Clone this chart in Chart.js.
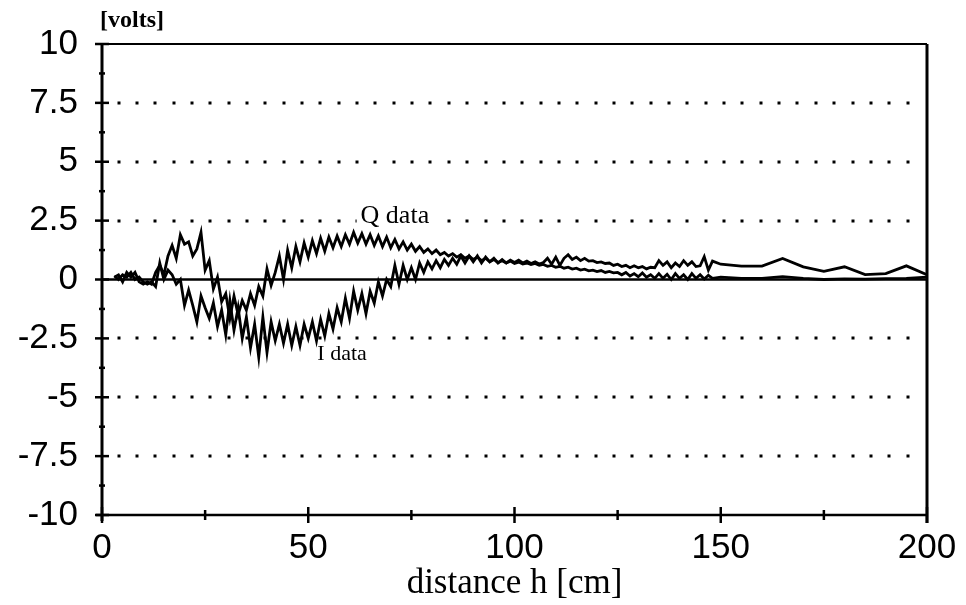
<!DOCTYPE html>
<html>
<head>
<meta charset="utf-8">
<script src="https://cdn.jsdelivr.net/npm/chart.js@4.4.0/dist/chart.umd.min.js"></script>
<style>
html, body { margin: 0; padding: 0; background: #fff; }
</style>
</head>
<body>
<canvas id="myChart" width="966" height="605"></canvas>
<script>
// distance h [cm] where both channels were sampled
var distance = [
    3, 4, 5, 6, 7, 8, 9, 10, 11, 12,
    13, 14, 15, 16, 17, 18, 19, 20, 21, 22,
    23, 24, 25, 26, 27, 28, 29, 30, 31, 32,
    33, 34, 35, 36, 37, 38, 39, 40, 41, 42,
    43, 44, 45, 46, 47, 48, 49, 50, 51, 52,
    53, 54, 55, 56, 57, 58, 59, 60, 61, 62,
    63, 64, 65, 66, 67, 68, 69, 70, 71, 72,
    73, 74, 75, 76, 77, 78, 79, 80, 81, 82,
    83, 84, 85, 86, 87, 88, 89, 90, 91, 92,
    93, 94, 95, 96, 97, 98, 99, 100, 101, 102,
    103, 104, 105, 106, 107, 108, 109, 110, 111, 112,
    113, 114, 115, 116, 117, 118, 119, 120, 121, 122,
    123, 124, 125, 126, 127, 128, 129, 130, 131, 132,
    133, 134, 135, 136, 137, 138, 139, 140, 141, 142,
    143, 144, 145, 146, 147, 148,
    150, 155, 160, 165, 170, 175, 180, 185, 190, 195, 200
];

// Q channel [volts]
var qVolts = [
    0.1, 0.2, -0.1, 0.3, 0.1, 0.3, -0.1, -0.2, -0.1, -0.2,
    0.3, 0.6, 0.2, 1.0, 1.45, 0.9, 1.9, 1.5, 1.6, 1.0,
    1.3, 2.0, 0.4, 0.8, -0.4, 0.1, -0.95, -0.6, -1.65, -0.7,
    -1.5, -0.9, -1.3, -0.6, -1.1, -0.3, -0.7, 0.45, -0.25, 0.3,
    1.0, 0.0, 1.25, 0.5, 1.4, 0.75, 1.55, 0.95, 1.65, 1.1,
    1.75, 1.2, 1.8, 1.35, 1.85, 1.4, 1.9, 1.5, 2.0, 1.55,
    1.95, 1.5, 1.9, 1.45, 1.85, 1.4, 1.8, 1.35, 1.7, 1.3,
    1.6, 1.25, 1.5, 1.2, 1.4, 1.15, 1.3, 1.1, 1.25, 1.05,
    1.15, 1.0, 1.1, 0.95, 1.05, 0.9, 1.0, 0.85, 0.95, 0.8,
    0.9, 0.75, 0.85, 0.72, 0.8, 0.7, 0.78, 0.68, 0.74, 0.66,
    0.7, 0.64, 0.68, 0.6, 0.64, 0.56, 0.6, 0.52, 0.56, 0.48,
    0.52, 0.44, 0.48, 0.4, 0.44, 0.37, 0.4, 0.34, 0.38, 0.3,
    0.34, 0.28, 0.3, 0.2, 0.3, 0.15, 0.25, 0.12, 0.28, 0.1,
    0.2, 0.05, 0.25, 0.05, 0.22, 0.0, 0.25, 0.05, 0.2, 0.0,
    0.25, 0.05, 0.2, 0.02, 0.18, 0.05,
    0.1, 0.05, 0.05, 0.12, 0.05, 0.0, 0.03, 0.02, 0.04, 0.05, 0.1
];

// I channel [volts]
var iVolts = [
    0.15, 0.0, 0.2, 0.1, 0.3, 0.0, 0.1, -0.1, -0.2, -0.1,
    -0.3, 0.7, 0.0, 0.4, 0.2, -0.2, 0.0, -1.1, -0.45, -1.1,
    -1.8, -0.7, -1.2, -1.65, -1.0, -2.0, -1.3, -2.35, -0.9, -2.15,
    -1.2, -2.5, -1.6, -2.9, -1.9, -3.3, -1.6, -3.1, -1.8, -2.6,
    -1.9, -2.7, -1.9, -2.8, -2.0, -2.8, -1.9, -2.5, -1.8, -2.6,
    -1.7, -2.4, -1.45, -2.1, -1.2, -1.8, -0.8, -1.65, -0.5, -1.3,
    -0.6, -1.45, -0.5, -1.0, -0.1, -0.7, 0.0, -0.3, 0.6, -0.2,
    0.6, 0.0, 0.5, 0.0, 0.7, 0.3, 0.75, 0.45, 0.8, 0.5,
    0.85, 0.6, 0.9, 0.65, 1.0, 0.7, 1.0, 0.75, 1.0, 0.7,
    0.95, 0.75, 0.9, 0.7, 0.85, 0.7, 0.82, 0.72, 0.82, 0.7,
    0.78, 0.68, 0.75, 0.66, 0.72, 0.9, 0.65, 0.95, 0.6, 0.9,
    1.05, 0.85, 0.95, 0.8, 0.9, 0.78, 0.8, 0.72, 0.75, 0.68,
    0.7, 0.6, 0.65, 0.55, 0.6, 0.5, 0.58, 0.5, 0.55, 0.45,
    0.52, 0.5, 0.8, 0.6, 0.75, 0.5, 0.7, 0.55, 0.8, 0.6,
    0.75, 0.55, 0.58, 0.97, 0.4, 0.78,
    0.65, 0.57, 0.57, 0.89, 0.54, 0.35, 0.54, 0.21, 0.25, 0.58, 0.2
];

var xTicks = [0, 50, 100, 150, 200];
var yTicks = [-10, -7.5, -5, -2.5, 0, 2.5, 5, 7.5, 10];

function toPoints(ys) {
    var pts = [];
    for (var i = 0; i < distance.length; i++) {
        pts.push({ x: distance[i], y: ys[i] });
    }
    return pts;
}

// axes frame, crossing ticks, dotted grid and the text notes
var paperPlugin = {
    id: 'paper',
    beforeDatasetsDraw: function (chart) {
        var ctx = chart.ctx;
        var a = chart.chartArea;
        var xs = chart.scales.x;
        var ys = chart.scales.y;
        ctx.save();
        ctx.fillStyle = '#000';
        yTicks.forEach(function (v) {
            if (v === 0 || v === 10 || v === -10) return;
            var py = Math.round(ys.getPixelForValue(v));
            for (var x = a.left + 16.5; x < a.right - 8; x += 18.35) {
                ctx.fillRect(Math.round(x) - 1.5, py - 1.5, 3, 3);
            }
        });
        // white gap behind the Q label on the 2.5 line
        ctx.font = '26px "Liberation Serif"';
        var qw = ctx.measureText('Q data').width;
        var qx = xs.getPixelForValue(71);
        var qy = ys.getPixelForValue(2.68);
        ctx.fillStyle = '#fff';
        ctx.fillRect(qx - qw / 2 - 4, qy - 14, qw + 8, 28);
        // zero line
        var zy = ys.getPixelForValue(0);
        ctx.strokeStyle = '#000';
        ctx.lineWidth = 2.5;
        ctx.beginPath();
        ctx.moveTo(a.left, zy);
        ctx.lineTo(a.right, zy);
        ctx.stroke();
        ctx.restore();
    },
    afterDraw: function (chart) {
        var ctx = chart.ctx;
        var a = chart.chartArea;
        var xs = chart.scales.x;
        var ys = chart.scales.y;
        ctx.save();
        ctx.strokeStyle = '#000';
        // frame
        ctx.lineWidth = 2;
        ctx.beginPath();
        ctx.moveTo(a.left, a.top);
        ctx.lineTo(a.right, a.top);
        ctx.stroke();
        ctx.lineWidth = 3;
        ctx.beginPath();
        ctx.moveTo(a.left, a.top);
        ctx.lineTo(a.left, a.bottom + 6);
        ctx.moveTo(a.right, a.top);
        ctx.lineTo(a.right, a.bottom + 8);
        ctx.stroke();
        ctx.lineWidth = 2.5;
        ctx.beginPath();
        ctx.moveTo(a.left - 6, a.bottom);
        ctx.lineTo(a.right, a.bottom);
        ctx.stroke();
        // y ticks
        ctx.lineWidth = 2.5;
        for (var v = -10; v <= 10; v += 1.25) {
            var py = ys.getPixelForValue(v);
            var major = Math.abs(v % 2.5) < 0.001;
            var len = major ? 7 : 3;
            ctx.beginPath();
            ctx.moveTo(a.left - len, py);
            ctx.lineTo(a.left + len, py);
            ctx.stroke();
        }
        // x ticks
        for (var h = 0; h <= 200; h += 25) {
            var px = xs.getPixelForValue(h);
            var big = h % 50 === 0;
            var l = big ? 8 : 5;
            ctx.beginPath();
            ctx.moveTo(px, a.bottom - l);
            ctx.lineTo(px, a.bottom + l);
            ctx.stroke();
        }
        // notes
        ctx.fillStyle = '#000';
        ctx.textBaseline = 'middle';
        ctx.textAlign = 'center';
        ctx.font = '26px "Liberation Serif"';
        ctx.fillText('Q data', xs.getPixelForValue(71), ys.getPixelForValue(2.68));
        ctx.font = '22px "Liberation Serif"';
        ctx.fillText('I data', xs.getPixelForValue(58.2), ys.getPixelForValue(-3.18));
        ctx.textAlign = 'left';
        ctx.font = 'bold 24px "Liberation Serif"';
        ctx.fillText('[volts]', a.left - 2, a.top - 23);
        ctx.restore();
    }
};

const data = {
    datasets: [{
        label: 'Q data',
        data: toPoints(qVolts),
        showLine: true,
        borderColor: '#000',
        borderWidth: 2.8,
        pointRadius: 0,
        tension: 0
    }, {
        label: 'I data',
        data: toPoints(iVolts),
        showLine: true,
        borderColor: '#000',
        borderWidth: 2.8,
        pointRadius: 0,
        tension: 0
    }]
};

const config = {
    type: 'scatter',
    data,
    options: {
        responsive: false,
        animation: false,
        layout: { padding: { left: 0, right: 39, top: 44, bottom: 0 } },
        plugins: {
            legend: { display: false },
            tooltip: { enabled: false }
        },
        scales: {
            x: {
                type: 'linear',
                min: 0,
                max: 200,
                afterBuildTicks: function (s) { s.ticks = xTicks.map(function (v) { return { value: v }; }); },
                ticks: {
                    color: '#000',
                    font: { family: 'Liberation Sans', size: 35 },
                    padding: 4,
                    maxRotation: 0
                },
                grid: { display: false },
                border: { display: false },
                title: {
                    display: true,
                    text: 'distance h [cm]',
                    color: '#000',
                    font: { family: 'Liberation Serif', size: 35 },
                    padding: { top: 5, bottom: 0 }
                },
                afterFit: function (s) { s.height = 90; }
            },
            y: {
                min: -10,
                max: 10,
                afterBuildTicks: function (s) { s.ticks = yTicks.map(function (v) { return { value: v }; }); },
                ticks: {
                    color: '#000',
                    font: { family: 'Liberation Sans', size: 35 },
                    padding: 16
                },
                grid: { display: false },
                border: { display: false },
                afterFit: function (s) { s.width = 102; }
            }
        }
    },
    plugins: [paperPlugin]
};

const myChart = new Chart(document.getElementById('myChart'), config);
</script>
</body>
</html>
